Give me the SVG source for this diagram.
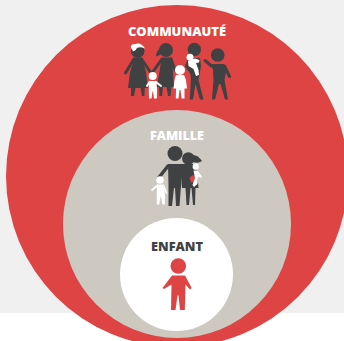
<svg xmlns="http://www.w3.org/2000/svg" width="344" height="341" viewBox="0 0 344 341">
<style>
.lbl{font-family:"Open Sans","Liberation Sans",sans-serif;font-weight:800;font-size:12px;text-anchor:middle}
.w{fill:#fff}.d{fill:#3f4142}.r{fill:#de4444}
.lw{stroke:#fff;fill:none;stroke-linecap:round;stroke-linejoin:round}
.ld{stroke:#3f4142;fill:none;stroke-linecap:round;stroke-linejoin:round}
</style>
<rect width="344" height="313" fill="#f0f0f0"/>
<rect y="313" width="344" height="28" fill="#fff"/>
<g id="communaute">
<circle class="r" cx="177" cy="176" r="171"/>
<text class="lbl w" x="177" y="36" textLength="98" lengthAdjust="spacingAndGlyphs">COMMUNAUTÉ</text>
<g>
<circle class="d" cx="137.700" cy="51" r="6.800"/>
<path class="w" d="M131 48Q130 44 135 44Q141 42 145 48.500Q140 46.500 137 48Q135 52 133 51Z"/>
<path class="d" d="M133.500 57.500H142L146 72L148 88H144.800L144.500 96H142L140.500 88H135.500L134 96H131L131 88H128L130 72L133 63Z"/>
<path class="ld" stroke-width="3" d="M134 59L125.500 73M141.500 59L151 73"/>
<circle class="d" cx="166" cy="50" r="7"/>
<path class="d" d="M160.500 48Q156 51 156 56.500Q160 56 162 53Z"/>
<path class="d" d="M161.500 57.500H172L173 72L174 87H171.500L170.500 96H168L166.500 87H163L162 96H159.500L159 87H156.500L159.500 72Z"/>
<path class="ld" stroke-width="3" d="M162 59L152 73M171 59L175 70"/>
<circle class="d" cx="194.300" cy="49.500" r="6.700"/>
<path class="d" d="M187.500 58H200L201 66L198.500 80L203.500 99.500H200L195.500 84L193 99.500H189.800L191 78L189.500 70Z"/>
<path class="ld" stroke-width="3" d="M189 60L186.500 66L191 72"/>
<circle class="d" cx="217.700" cy="55" r="6.800"/>
<path class="d" d="M211 64H224L226 72L224.500 80L228 99.500H225L220.500 84H219L215 99.500H212L213.500 80L213 70Z"/>
<path class="ld" stroke-width="3" d="M211.500 66L205 60.500M224.500 66L229.500 76.500"/>
<circle class="w" cx="152.700" cy="76" r="4"/>
<path class="w" d="M149 81H156.500L157 90L156.800 98.500H154L153 91.500H152.500L151.500 98.500H149L148.800 90Z"/>
<path class="lw" stroke-width="2" d="M149.500 82L147 86M156 82L161 86"/>
<circle class="w" cx="180" cy="70" r="5"/>
<path class="w" d="M176 75H184L186 80L187 88.500H184.500L184.500 98.500H181.500L180.500 90H179.500L178.500 98.500H175.800L176 88.500H173.500L174.500 80Z"/>
<circle class="w" cx="190" cy="57.300" r="3.500"/>
<path class="w" d="M188 61L195 58.500L199.500 60L199 62.500L196 63L198.500 70L199 75L196 76L193.500 69L188.500 66Z"/>
</g>
</g>
<g id="famille">
<circle cx="177" cy="224" r="114" fill="#cdc9c1"/>
<text class="lbl w" x="177" y="140" textLength="54" lengthAdjust="spacingAndGlyphs">FAMILLE</text>
<g>
<circle class="d" cx="175" cy="153.500" r="7.500"/>
<circle class="d" cx="188.300" cy="158.500" r="6.300"/>
<path class="d" d="M193 155Q198 155 202 161Q198 164 193 162Z"/>
<path class="d" d="M168 164H182L181 186L179.500 206H176L175 188H174L172 206H168.500L168.500 186Z"/>
<path class="ld" stroke-width="3.500" d="M168 166L158.500 178"/>
<path class="d" d="M180 164H193L197 170L198.500 188H195.500L195 205H193L191.500 188H190.500L189 205H186.500L185.500 188H182Z"/>
<circle class="w" cx="195.700" cy="166.700" r="3.100"/>
<path class="r" d="M189.500 178Q193 173.500 197 176L196.500 182L191 182.500Z"/>
<path class="w" d="M193.500 170.500H197.500L202 176.500L201 178L198 176.500L197.500 184L194 187L192.500 185L195 178Z"/>
<circle class="w" cx="160" cy="180" r="3.800"/>
<path class="w" d="M157 184.500H163.500L165 195L164.800 204.500H162.500L161 197H160.500L159.200 204.500H156.800V195Z"/>
<path class="lw" stroke-width="1.800" d="M157.500 185.500L152 190M163.500 185.500L166.500 193"/>
</g>
</g>
<g id="enfant">
<circle class="w" cx="176.500" cy="274.500" r="56.500"/>
<text class="lbl d" x="177" y="251" textLength="52" lengthAdjust="spacingAndGlyphs">ENFANT</text>
<circle class="r" cx="178.300" cy="266" r="7.800"/>
<path class="r" d="M172 275.500H185L191.700 288L190 289.500L185.500 284.500L184.800 310H180L178.500 295.500H177.500L175.500 310H171L171.500 284.500L164 289L162.500 288Z"/>
</g>
</svg>
